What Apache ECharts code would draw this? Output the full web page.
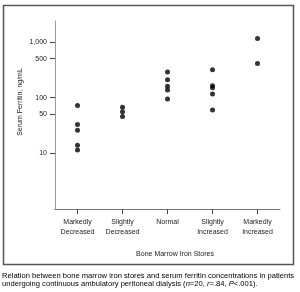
<!DOCTYPE html>
<html>
<head>
<meta charset="utf-8">
<script src="https://cdn.jsdelivr.net/npm/echarts@6/dist/echarts.min.js"></script>
<style>
html,body{margin:0;padding:0;background:#fff;}
#chart{width:300px;height:292px;}
</style>
</head>
<body>
<div id="chart"></div>
<script>
const categories = ['Markedly\nDecreased', 'Slightly\nDecreased', 'Normal', 'Slightly\nIncreased', 'Markedly\nIncreased'];
const markedlyDecreased = [72, 33, 26, 14, 11.5];
const slightlyDecreased = [67, 56, 46];
const normal = [290, 210, 160, 137, 95];
const slightlyIncreased = [318, 164, 150, 116, 60];
const markedlyIncreased = [1150, 410];
const yTickValues = [10, 50, 100, 500, 1000];
const yAxisTitle = 'Serum Ferritin, ng/mL';
const xAxisTitle = 'Bone Marrow Iron Stores';
const captionLine1 = 'Relation between bone marrow iron stores and serum ferritin concentrations in patients';

const groups = [markedlyDecreased, slightlyDecreased, normal, slightlyIncreased, markedlyIncreased];
const points = [];
groups.forEach((arr, i) => arr.forEach(v => points.push([categories[i], v])));

const font = 'Liberation Sans, Arial, sans-serif';
const capSize = 7.6;
const chart = echarts.init(document.getElementById('chart'), null, {renderer: 'canvas'});
chart.setOption({
  animation: false,
  backgroundColor: '#fff',
  grid: {left: 55, right: 20, top: 21, bottom: 83, containLabel: false},
  xAxis: {
    type: 'category',
    data: categories,
    boundaryGap: true,
    axisLine: {show: true, lineStyle: {color: '#777', width: 1}},
    axisTick: {show: true, alignWithLabel: true, length: 5, inside: false, lineStyle: {color: '#444'}},
    axisLabel: {fontFamily: font, fontSize: 7, color: '#222', margin: 8, lineHeight: 10, interval: 0},
    splitLine: {show: false}
  },
  yAxis: {
    type: 'log',
    logBase: 10,
    min: 1,
    max: 2380,
    axisLine: {show: true, lineStyle: {color: '#999', width: 1}},
    axisTick: {show: true, length: 5, customValues: yTickValues, lineStyle: {color: '#444'}},
    axisLabel: {
      fontFamily: font, fontSize: 7, color: '#222', margin: 8,
      customValues: yTickValues,
      formatter: v => Math.round(v).toLocaleString('en-US')
    },
    splitLine: {show: false},
    minorTick: {show: false}
  },
  series: [{
    type: 'scatter',
    data: points,
    symbol: 'circle',
    symbolSize: 5,
    itemStyle: {color: '#000'}
  }],
  graphic: [
    {type: 'rect', shape: {x: 3.5, y: 5.5, width: 290, height: 259}, style: {fill: 'none', stroke: '#555', lineWidth: 1.5}, silent: true},
    {type: 'text', x: 20, y: 102, rotation: Math.PI / 2,
      style: {text: yAxisTitle, fontFamily: font, fontSize: 7, fill: '#222', align: 'center', verticalAlign: 'middle'}},
    {type: 'text', x: 175, y: 254,
      style: {text: xAxisTitle, fontFamily: font, fontSize: 7, fill: '#222', align: 'center', verticalAlign: 'middle'}},
    {type: 'text', x: 2, y: 275.5,
      style: {text: captionLine1, fontFamily: font, fontSize: capSize, fill: '#000', align: 'left', verticalAlign: 'middle'}},
    {type: 'text', x: 2, y: 283.5,
      style: {
        text: 'undergoing continuous ambulatory peritoneal dialysis ({i|n}=20, {i|r}=.84, {i|P}<.001).',
        fontFamily: font, fontSize: capSize, fill: '#000', align: 'left', verticalAlign: 'middle',
        rich: {i: {fontStyle: 'italic', fontFamily: font, fontSize: capSize, fill: '#000'}}
      }}
  ]
});
</script>
</body>
</html>
